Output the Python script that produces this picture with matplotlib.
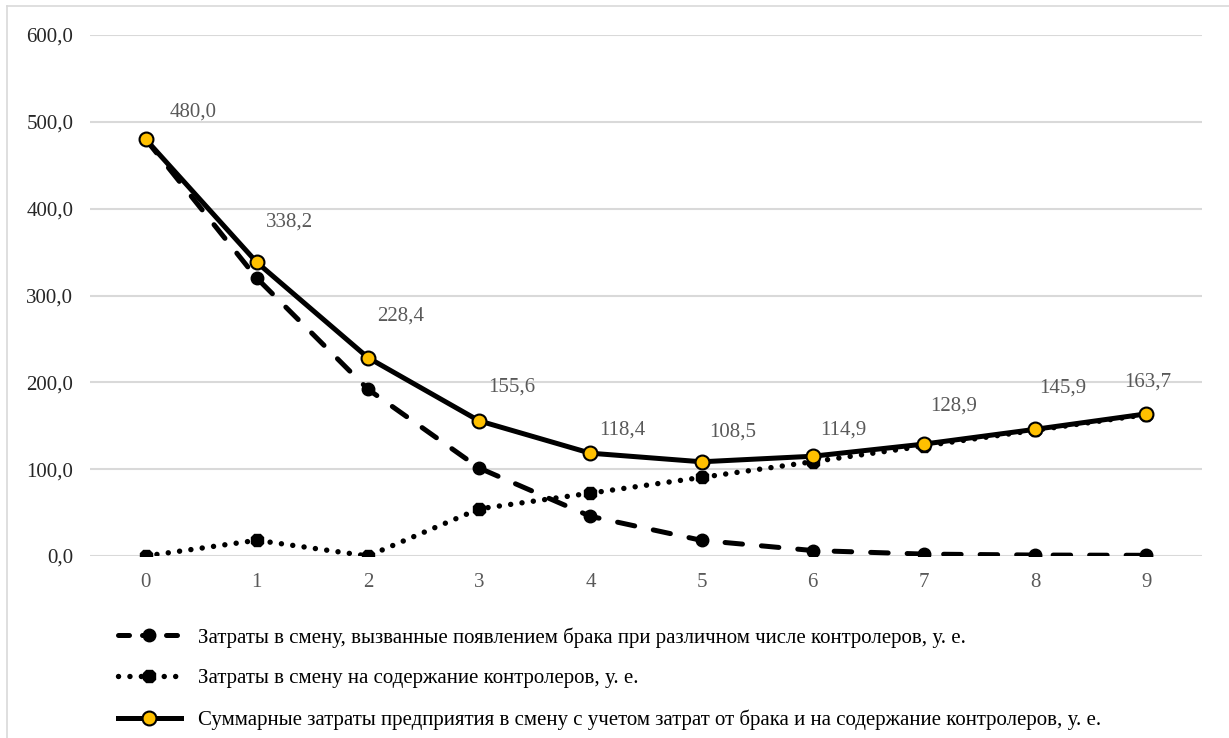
import matplotlib
matplotlib.use("Agg")
import matplotlib.pyplot as plt
from matplotlib.lines import Line2D

# number of controllers
controllers = [0, 1, 2, 3, 4, 5, 6, 7, 8, 9]

# costs per shift
defect_costs = [480.0, 320.0, 192.0, 101.3, 45.7, 18.0, 6.3, 2.2, 1.1, 0.8]
controller_costs = [0.0, 18.1, 0.0, 54.3, 72.4, 90.5, 108.6, 126.7, 144.8, 162.9]
total_costs = [480.0, 338.2, 228.4, 155.6, 118.4, 108.5, 114.9, 128.9, 145.9, 163.7]

labels = [
    "Затраты в смену, вызванные появлением брака при различном числе контролеров, у. е.",
    "Затраты в смену на содержание контролеров, у. е.",
    "Суммарные затраты предприятия в смену с учетом затрат от брака и на содержание контролеров, у. е.",
]

# where Excel put the data labels (pixels from the point)
label_offsets = [(48, 27), (33, 40), (33, 42), (33, 34), (32, 23),
                 (31, 30), (30, 26), (30, 38), (28, 41), (1, 32)]

plt.rcParams["font.family"] = ["Liberation Serif", "DejaVu Serif"]
FS = 15.0

fig = plt.figure(figsize=(12.29, 7.38), dpi=100)
ax = fig.add_axes([90 / 1229, 1 - 556 / 738, (1202 - 90) / 1229, (556 - 35) / 738])

ax.plot(controllers, defect_costs, color="black", lw=3.6, dashes=(3.5, 3.8),
        dash_capstyle="round", marker="o", ms=9, mfc="black", mec="black", zorder=3)
ax.plot(controllers, controller_costs, color="black", lw=3.9, dashes=(0.01, 2.1),
        dash_capstyle="round", marker="8", ms=9.5, mfc="black", mec="black", zorder=3)
ax.plot(controllers, total_costs, color="black", lw=3.6, solid_capstyle="round",
        marker="o", ms=10, mfc="#FFC000", mec="black", mew=1.5, zorder=4)

for x, v, (dx, dy) in zip(controllers, total_costs, label_offsets):
    ax.annotate(f"{v:.1f}".replace(".", ","), (x, v), xytext=(dx, dy),
                textcoords="offset pixels", ha="center", va="center",
                fontsize=FS, color="#595959")

ax.set_xlim(-0.5, 9.5)
ax.set_ylim(0, 600)
ax.set_yticks(range(0, 601, 100))
ax.set_yticklabels([f"{t},0" for t in range(0, 601, 100)], fontsize=FS, color="#262626")
ax.set_xticks(controllers)
ax.set_xticklabels([str(c) for c in controllers], fontsize=FS, color="#595959")
ax.tick_params(axis="both", length=0)
ax.tick_params(axis="y", pad=12)
ax.tick_params(axis="x", pad=12)
ax.grid(axis="y", color="#D9D9D9", lw=1.5)
ax.set_axisbelow(True)
for s in ax.spines.values():
    s.set_visible(False)

handles = [
    Line2D([], [], color="black", lw=3.6, dashes=(2.2, 2.6), dash_capstyle="round",
           marker="o", ms=9, mfc="black", mec="black"),
    Line2D([], [], color="black", lw=3.9, dashes=(0.01, 2.1), dash_capstyle="round",
           marker="8", ms=9.5, mfc="black", mec="black"),
    Line2D([], [], color="black", lw=3.6, marker="o", ms=10, mfc="#FFC000",
           mec="black", mew=1.5),
]
leg = fig.legend(handles, labels, loc="upper left", bbox_to_anchor=(118 / 1229, 1 - 627 / 738),
                 frameon=False, fontsize=FS, handlelength=3.0, handletextpad=0.85,
                 labelspacing=1.02, borderaxespad=0, borderpad=0)

# thin light border of the chart area
fig.add_artist(Line2D([7 / 1229, 7 / 1229], [0, 1 - 6 / 738], color="#D9D9D9", lw=1.2))
fig.add_artist(Line2D([7 / 1229, 1], [1 - 6 / 738, 1 - 6 / 738], color="#D9D9D9", lw=1.2))

fig.savefig("out.png", dpi=100)
